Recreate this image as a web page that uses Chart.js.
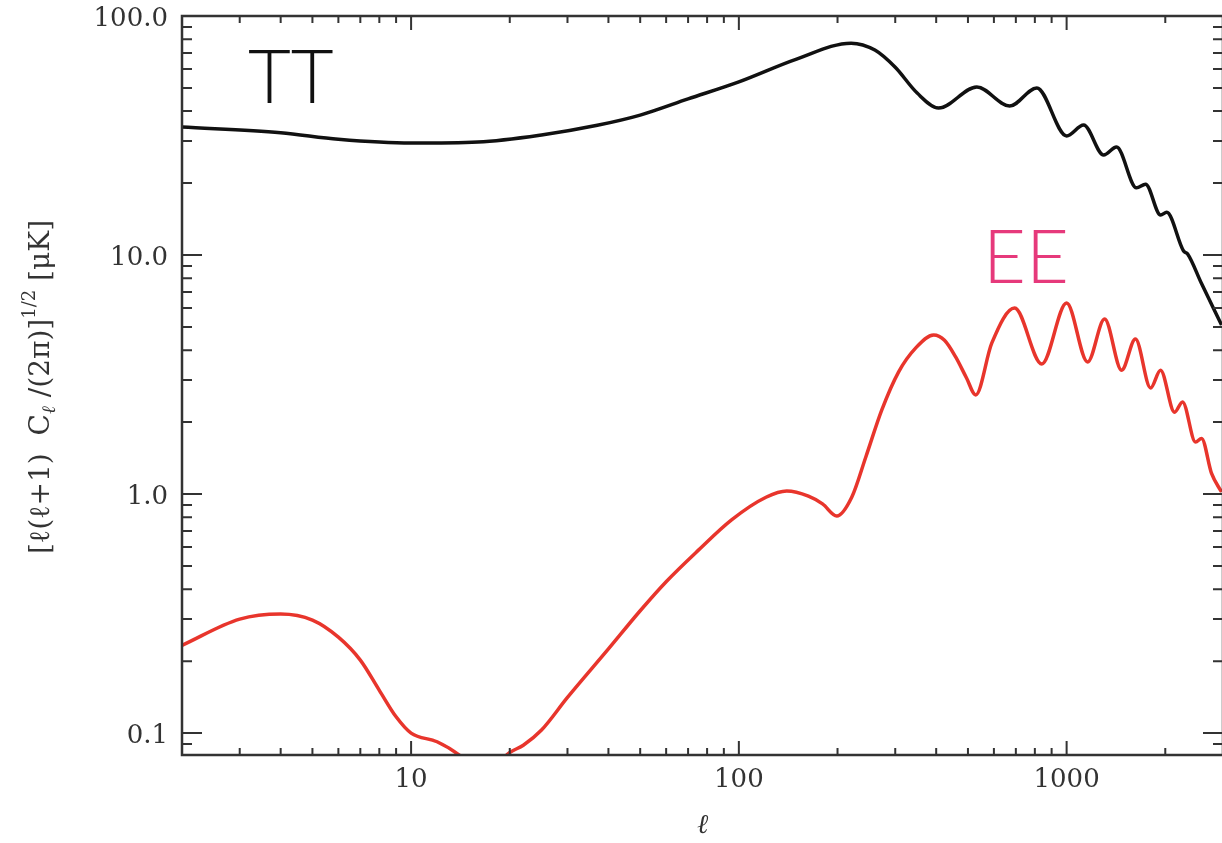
<!DOCTYPE html>
<html>
<head>
<meta charset="utf-8">
<title>CMB TT / EE spectra</title>
<script src="https://cdn.jsdelivr.net/npm/chart.js@4"></script>
<style>
  html, body { margin: 0; padding: 0; background: #fff; overflow: hidden; }
  #wrap { width: 1230px; height: 843px; position: relative; }
</style>
</head>
<body>
<div id="wrap"><canvas id="myChart"></canvas></div>
<script>
"use strict";

//--------------------DATA

// multipole values and amplitudes (uK)
let ttEll = [2, 4, 6, 10, 16, 25, 37, 50, 70, 100, 150, 220, 260, 300, 350, 407,
  532, 670, 811, 1000, 1127, 1297, 1420, 1634, 1741, 1936, 2020, 2274, 2340, 2580, 2970];
let ttVals = [34.3, 32.5, 30.5, 29.4, 29.7, 31.8, 34.9, 38.5, 45, 53, 66, 77, 72, 61, 47.6, 41.2,
  50.5, 42, 50, 31.5, 35, 26.2, 28.3, 19.1, 19.8, 14.7, 15.1, 10.4, 10.1, 7.6, 5.1];

let eeEll = [2, 3, 4, 5, 6, 7, 8, 9, 10, 12, 14, 15, 17, 19, 20, 22, 25, 30, 40, 50,
  60, 75, 95, 121, 140, 163, 180, 199, 221, 244, 273, 307, 346, 393, 424, 459, 495, 528, 591, 694,
  840, 1000, 1159, 1306, 1472, 1622, 1804, 1934, 2135, 2258, 2474, 2580, 2768, 2970];
let eeVals = [0.233, 0.30, 0.315, 0.297, 0.252, 0.202, 0.151, 0.117, 0.1, 0.092, 0.081, 0.074, 0.066, 0.078, 0.083, 0.089, 0.103, 0.141, 0.225, 0.325,
  0.43, 0.58, 0.78, 0.97, 1.03, 0.98, 0.91, 0.81, 0.97, 1.43, 2.25, 3.24, 4.08, 4.63, 4.4, 3.74, 3.06, 2.6, 4.28, 6.0,
  3.5, 6.3, 3.57, 5.4, 3.3, 4.45, 2.78, 3.3, 2.2, 2.43, 1.65, 1.71, 1.22, 1.02];

let xTicks = [10, 100, 1000];
let yTicks = [0.1, 1, 10, 100];
let yTickLabels = ["0.1", "1.0", "10.0", "100.0"];

//--------------------HELPERS

function toPoints(xs, ys) {
  let pts = [];
  for (let i = 0; i < xs.length; i++) {
    pts.push({ x: xs[i], y: ys[i] });
  }
  return pts;
}

// minor log ticks (1..9 x 10^n) inside [min, max]
function logTicks(min, max) {
  let out = [];
  for (let d = -2; d <= 4; d++) {
    for (let m = 1; m <= 9; m++) {
      let v = m * Math.pow(10, d);
      if (v >= min * 0.999 && v <= max * 1.001) out.push({ v: v, major: m === 1 });
    }
  }
  return out;
}

const axisColor = "#333333";
const serif = "'DejaVu Serif', 'Liberation Serif', serif";

// IDL-style frame with inward ticks on all four sides, plus text labels
const framePlugin = {
  id: "frame",
  afterDraw(chart) {
    const ctx = chart.ctx;
    const a = chart.chartArea;
    const xs = chart.scales.x;
    const ys = chart.scales.y;
    ctx.save();
    ctx.strokeStyle = axisColor;
    ctx.lineWidth = 2.5;
    ctx.strokeRect(a.left, a.top, a.right - a.left, a.bottom - a.top);

    ctx.lineWidth = 2;
    ctx.beginPath();
    logTicks(xs.min, xs.max).forEach(function (t) {
      let px = xs.getPixelForValue(t.v);
      let len = t.major ? 14 : 7;
      ctx.moveTo(px, a.bottom);
      ctx.lineTo(px, a.bottom - len);
      ctx.moveTo(px, a.top);
      ctx.lineTo(px, a.top + len);
    });
    logTicks(ys.min, ys.max).forEach(function (t) {
      let py = ys.getPixelForValue(t.v);
      let len = t.major ? 20 : 10;
      ctx.moveTo(a.left, py);
      ctx.lineTo(a.left + len, py);
      ctx.moveTo(a.right, py);
      ctx.lineTo(a.right - len, py);
    });
    ctx.stroke();

    // x title
    ctx.fillStyle = axisColor;
    ctx.font = "italic 27px " + serif;
    ctx.textAlign = "center";
    ctx.textBaseline = "middle";
    ctx.fillText("\u2113", (a.left + a.right) / 2, 826);

    // y title, rotated, with sub/superscripts
    let parts = [
      { t: "[\u2113(\u2113+1)  C", size: 28, dy: 0, italic: false },
      { t: "\u2113", size: 19, dy: 8, italic: true },
      { t: " /(2\u03C0)]", size: 28, dy: 0, italic: false },
      { t: "1/2", size: 18, dy: -12, italic: false },
      { t: " [\u03BCK]", size: 28, dy: 0, italic: false },
    ];
    let total = 0;
    parts.forEach(function (p) {
      ctx.font = (p.italic ? "italic " : "") + p.size + "px " + serif;
      p.w = ctx.measureText(p.t).width;
      total += p.w;
    });
    ctx.translate(42, 387);
    ctx.rotate(-Math.PI / 2);
    ctx.textAlign = "left";
    ctx.textBaseline = "middle";
    let cx = -total / 2;
    parts.forEach(function (p) {
      ctx.font = (p.italic ? "italic " : "") + p.size + "px " + serif;
      ctx.fillText(p.t, cx, p.dy);
      cx += p.w;
    });
    ctx.restore();

    // curve labels
    ctx.save();
    ctx.textBaseline = "alphabetic";
    ctx.textAlign = "left";
    ctx.font = "300 74px Lato, 'Open Sans', sans-serif";
    ctx.fillStyle = "#111111";
    ctx.fillText("TT", 248, 103);
    ctx.fillStyle = "#e6397b";
    ctx.fillText("EE", 983, 283);
    ctx.restore();
  },
};

//--------------------CHART

function renderChart() {
  const ctx = document.getElementById("myChart").getContext("2d");
  const myChart = new Chart(ctx, {
    type: "line",
    data: {
      datasets: [
        {
          label: "TT",
          data: toPoints(ttEll, ttVals),
          borderColor: "#111111",
          borderWidth: 3.5,
          pointRadius: 0,
          cubicInterpolationMode: "monotone",
          fill: false,
        },
        {
          label: "EE",
          data: toPoints(eeEll, eeVals),
          borderColor: "#e8352c",
          borderWidth: 3.5,
          pointRadius: 0,
          cubicInterpolationMode: "monotone",
          fill: false,
        },
      ],
    },
    options: {
      responsive: true,
      maintainAspectRatio: false,
      animation: false,
      layout: { padding: { left: 0, top: 16, right: 7, bottom: 0 } },
      plugins: {
        legend: { display: false },
        tooltip: { enabled: false },
      },
      scales: {
        x: {
          type: "logarithmic",
          position: "bottom",
          min: 2,
          max: 3000,
          grid: { display: false, drawTicks: false },
          border: { display: false },
          afterBuildTicks: function (scale) {
            scale.ticks = xTicks.map(function (v) { return { value: v }; });
          },
          afterFit: function (scale) {
            scale.height = 88;
            scale.paddingLeft = 0;
            scale.paddingRight = 0;
          },
          ticks: {
            autoSkip: false,
            maxRotation: 0,
            padding: 10,
            color: axisColor,
            font: { family: serif, size: 26 },
            callback: function (value) { return String(value); },
          },
        },
        y: {
          type: "logarithmic",
          position: "left",
          min: 0.081,
          max: 100,
          grid: { display: false, drawTicks: false },
          border: { display: false },
          afterBuildTicks: function (scale) {
            scale.ticks = yTicks.map(function (v) { return { value: v }; });
          },
          afterFit: function (scale) {
            scale.width = 182;
            scale.paddingTop = 0;
            scale.paddingBottom = 0;
          },
          ticks: {
            autoSkip: false,
            padding: 14,
            labelOffset: 3,
            color: axisColor,
            font: { family: serif, size: 26 },
            callback: function (value, index) { return yTickLabels[index]; },
          },
        },
      },
    },
    plugins: [framePlugin],
  });
}

//--------------------FUNCTION CALLS

renderChart();
</script>
</body>
</html>
